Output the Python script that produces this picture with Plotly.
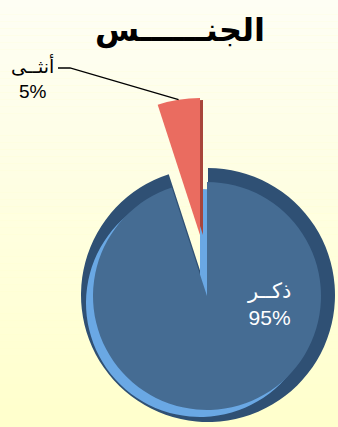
import math
import plotly.graph_objects as go

# Data
labels = ["ذكــر", "أنثــى"]
values = [95, 5]
title_text = "الجنــــــس"

W, H = 338, 427
TRANSPARENT = "rgba(0,0,0,0)"


def domain(cx, cy, r):
    """Pixel circle -> paper domain for a pie trace."""
    clamp = lambda v: min(1.0, max(0.0, v))
    return dict(x=[clamp((cx - r) / W), clamp((cx + r) / W)],
                y=[clamp(1 - (cy + r) / H), clamp(1 - (cy - r) / H)])


def pie_layer(colors, cx, cy, r):
    return go.Pie(
        values=values, labels=labels, sort=False, direction="clockwise",
        rotation=0, marker=dict(colors=colors, line=dict(width=0)),
        textinfo="none", hoverinfo="skip", showlegend=False,
        domain=domain(cx, cy, r),
    )


fig = go.Figure()

# Male disc: dark bevel, lit bevel on the lower-left, then the top face
bx, by, br = 207, 296, 127
face_r = br - 13
fig.add_trace(pie_layer(["#2f5074", TRANSPARENT], bx + 1, by - 1, br))
fig.add_trace(pie_layer(["#6aa8e4", TRANSPARENT], bx - 7, by + 7, face_r))
fig.add_trace(pie_layer(["#456c93", TRANSPARENT], bx, by, face_r))

# Exploded female slice: shaded side then front face
fx, fy, fr = 200, 235, 137
fig.add_trace(pie_layer([TRANSPARENT, "#a8453b"], fx + 5, fy, fr))
fig.add_trace(pie_layer([TRANSPARENT, "#ea6c60"], fx, fy, fr))

# Soft vertical background gradient
n_bands = 60
top_rgb = (254, 254, 244)
bot_rgb = (255, 255, 204)
shapes = []
for i in range(n_bands):
    t = i / (n_bands - 1)
    c = tuple(round(a + (b - a) * t) for a, b in zip(top_rgb, bot_rgb))
    shapes.append(dict(
        type="rect", xref="paper", yref="paper", layer="below",
        x0=0, x1=1, y0=1 - (i + 1) / n_bands, y1=1 - i / n_bands,
        fillcolor=f"rgb{c}", line=dict(width=0),
    ))

# Leader line from the female label to the slice's outer edge
mid = math.radians(360 - values[1] / sum(values) * 360 / 2)
ex = fx + fr * math.sin(mid)
ey = fy - fr * math.cos(mid)
pts = [(58, 68), (70, 68), (ex, ey)]
path = "M " + " L ".join(f"{x / W},{1 - y / H}" for x, y in pts)
shapes.append(dict(type="path", xref="paper", yref="paper", path=path,
                   line=dict(color="black", width=1.3)))

font_family = "Liberation Sans, DejaVu Sans, Arial, sans-serif"
common = dict(xref="paper", yref="paper", showarrow=False,
              xanchor="center", yanchor="middle")
annotations = [
    dict(text=f"<b>{title_text}</b>", x=180 / W, y=1 - 30 / H,
         font=dict(family="DejaVu Sans, sans-serif", size=32, color="black"),
         **common),
    dict(text=f"{labels[0]}<br>{values[0]}%", x=269 / W, y=1 - 304 / H,
         font=dict(family=font_family, size=21, color="white"), **common),
    dict(text=f"{labels[1]}<br>{values[1]}%", x=32 / W, y=1 - 78 / H,
         font=dict(family=font_family, size=19, color="black"), **common),
]

fig.update_layout(
    width=W, height=H, margin=dict(l=0, r=0, t=0, b=0),
    paper_bgcolor="#ffffcc", plot_bgcolor="#ffffcc",
    shapes=shapes, annotations=annotations, showlegend=False,
)

fig.write_html("out.html")
